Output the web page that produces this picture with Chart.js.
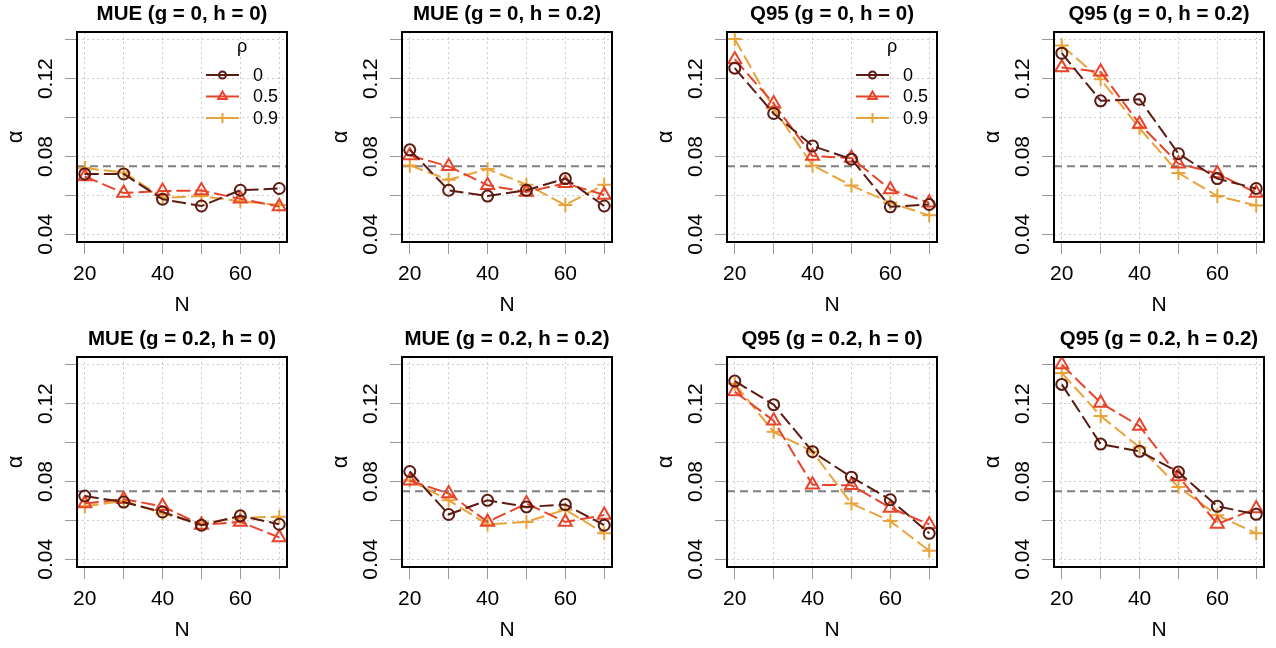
<!DOCTYPE html>
<html>
<head>
<meta charset="utf-8">
<script src="https://cdn.jsdelivr.net/npm/chart.js@4.4.1/dist/chart.umd.min.js"></script>
<style>
html,body{margin:0;padding:0;background:#fff;overflow:hidden;}
#wrap{position:relative;width:1276px;height:648px;}
canvas{position:absolute;}
</style>
</head>
<body>
<div id="wrap"></div>
<script>
// x values and tick setup
const Nvals=[20,30,40,50,60,70];
const xTicks=[20,30,40,50,60,70];
const xLabels=[20,40,60];
const yTicks=[0.04,0.06,0.08,0.10,0.12,0.14];
const yLabels=["0.04","0.08","0.12"];
const nominal=0.075;
const rhoLabels=["0","0.5","0.9"];

// alpha values, one array per rho (0, 0.5, 0.9)
const mue_g0_h0=[
  [0.071,0.071,0.058,0.0545,0.0626,0.0635],
  [0.0697,0.0612,0.0622,0.0625,0.0582,0.0542],
  [0.074,0.0718,0.0587,0.0596,0.057,0.055]
];
const mue_g0_h02=[
  [0.0834,0.0626,0.0596,0.0626,0.0686,0.0545],
  [0.0805,0.0749,0.0652,0.0617,0.0662,0.0602],
  [0.0754,0.068,0.0735,0.0655,0.055,0.0655]
];
const q95_g0_h0=[
  [0.1254,0.1021,0.0854,0.0786,0.0541,0.0553],
  [0.1299,0.1072,0.0802,0.0792,0.063,0.0562],
  [0.1404,0.1047,0.0754,0.065,0.0562,0.0497]
];
const q95_g0_h02=[
  [0.1331,0.1086,0.1094,0.0814,0.0686,0.0635],
  [0.1258,0.1235,0.0967,0.0763,0.0712,0.0612],
  [0.137,0.1197,0.0945,0.0715,0.0596,0.0548]
];
const mue_g02_h0=[
  [0.0725,0.0694,0.0643,0.0575,0.0623,0.058],
  [0.0686,0.0709,0.0672,0.0576,0.0592,0.0512],
  [0.0672,0.070,0.0635,0.0584,0.0614,0.0618]
];
const mue_g02_h02=[
  [0.0851,0.063,0.0703,0.0669,0.0681,0.0575],
  [0.0804,0.0738,0.0592,0.0686,0.0592,0.0627],
  [0.0806,0.0703,0.0579,0.0592,0.0655,0.0533]
];
const q95_g02_h0=[
  [0.1316,0.1195,0.0953,0.0822,0.0706,0.0533],
  [0.1262,0.1112,0.0783,0.078,0.0664,0.0579],
  [0.1302,0.1055,0.0953,0.0686,0.0596,0.0444]
];
const q95_g02_h02=[
  [0.1299,0.0992,0.0955,0.0848,0.0672,0.0631],
  [0.1401,0.1204,0.1085,0.0826,0.0581,0.0661],
  [0.1358,0.1137,0.0975,0.0771,0.0626,0.0533]
];

const titles=[
  "MUE (g = 0, h = 0)","MUE (g = 0, h = 0.2)","Q95 (g = 0, h = 0)","Q95 (g = 0, h = 0.2)",
  "MUE (g = 0.2, h = 0)","MUE (g = 0.2, h = 0.2)","Q95 (g = 0.2, h = 0)","Q95 (g = 0.2, h = 0.2)"
];
const panels=[mue_g0_h0,mue_g0_h02,q95_g0_h0,q95_g0_h02,mue_g02_h0,mue_g02_h02,q95_g02_h0,q95_g02_h02];
const legendPanels=[0,2];

const colors=["#5c1b12","#e8442b","#e9a33b"];
const styles=["circle","triangle","cross"];
const radii=[5.5,7.5,7];

const FONT="'Liberation Sans', Arial, Helvetica, sans-serif";
Chart.defaults.font.family=FONT;
Chart.defaults.color="#000";

function marker(ctx,style,x,y,r){
    ctx.beginPath();
    if(style=="circle"){
        ctx.arc(x,y,r,0,Math.PI*2);
    }else if(style=="triangle"){
        ctx.moveTo(x,y-r);
        ctx.lineTo(x+Math.sin(2*Math.PI/3)*r,y+r/2);
        ctx.lineTo(x-Math.sin(2*Math.PI/3)*r,y+r/2);
        ctx.closePath();
    }else{
        ctx.moveTo(x-r,y);ctx.lineTo(x+r,y);
        ctx.moveTo(x,y-r);ctx.lineTo(x,y+r);
    }
    ctx.stroke();
}

// box, title and legend
const framePlugin={
    id:"frame",
    afterDraw(chart,args,opts){
        const a=chart.chartArea, ctx=chart.ctx;
        ctx.save();
        ctx.strokeStyle="#000";
        ctx.lineWidth=2;
        ctx.strokeRect(a.left,a.top,a.right-a.left,a.bottom-a.top);

        ctx.fillStyle="#000";
        ctx.font="bold 20.5px "+FONT;
        ctx.textAlign="center";
        ctx.textBaseline="middle";
        ctx.fillText(opts.title,(a.left+a.right)/2,14);

        if(opts.legend){
            ctx.font="18px "+FONT;
            ctx.fillText("ρ",a.right-45,a.top+15);
            ctx.textAlign="left";
            rhoLabels.forEach((lab,i)=>{
                const y=a.top+43+i*21.5;
                ctx.strokeStyle=colors[i];
                ctx.lineWidth=2;
                ctx.beginPath();
                ctx.moveTo(a.right-81,y);ctx.lineTo(a.right-48,y);
                ctx.stroke();
                marker(ctx,styles[i],a.right-64.5,y,[3.5,5,5][i]);
                ctx.fillText(lab,a.right-34,y+1);
            });
        }
        ctx.restore();
    }
};

const wrap=document.getElementById("wrap");
const colLeft=[0,325,650,977];
const rowTop=[0,325];

function axisCommon(){
    return {
        grid:{color:"#cdcdcd",lineWidth:1,tickLength:12,tickColor:"#9a9a9a",tickWidth:1},
        border:{display:false,dash:[2,3]}
    };
}

panels.forEach((series,p)=>{
    const cv=document.createElement("canvas");
    cv.width=300; cv.height=324;
    cv.style.left=colLeft[p%4]+"px";
    cv.style.top=rowTop[Math.floor(p/4)]+"px";
    wrap.appendChild(cv);

    const datasets=series.map((vals,i)=>({
        label:rhoLabels[i],
        data:Nvals.map((n,k)=>({x:n,y:vals[k]})),
        borderColor:colors[i],
        borderWidth:2,
        borderDash:[14,5],
        pointStyle:styles[i],
        pointRadius:radii[i],
        pointBorderWidth:2,
        pointBorderColor:colors[i],
        pointBackgroundColor:"rgba(0,0,0,0)",
        tension:0,
        fill:false
    }));
    datasets.push({
        label:"nominal",
        data:[{x:18,y:nominal},{x:72,y:nominal}],
        borderColor:"#7f7f7f",
        borderWidth:2,
        borderDash:[8,5],
        pointRadius:0,
        fill:false
    });

    new Chart(cv,{
        type:"line",
        data:{datasets},
        options:{
            responsive:false,
            animation:false,
            events:[],
            layout:{padding:{top:32,right:13,left:0,bottom:0}},
            plugins:{
                legend:{display:false},
                tooltip:{enabled:false},
                frame:{title:titles[p],legend:legendPanels.includes(p)}
            },
            scales:{
                x:Object.assign(axisCommon(),{
                    type:"linear",min:18,max:72,
                    afterBuildTicks:s=>{s.ticks=xTicks.map(v=>({value:v}));},
                    afterFit:s=>{s.height=82;},
                    ticks:{
                        callback:v=>xLabels.includes(v)?String(v):"",
                        font:{size:21},color:"#000",padding:8,
                        maxRotation:0,autoSkip:false
                    },
                    title:{display:true,text:"N",font:{size:21},color:"#000",padding:{top:0,bottom:6}}
                }),
                y:Object.assign(axisCommon(),{
                    type:"linear",min:0.036,max:0.144,
                    afterBuildTicks:s=>{s.ticks=yTicks.map(v=>({value:v}));},
                    afterFit:s=>{s.width=77;},
                    ticks:{
                        callback:v=>{const t=v.toFixed(2);return yLabels.includes(t)?t:"";},
                        font:{size:21},color:"#000",padding:-2,
                        minRotation:90,maxRotation:90,crossAlign:"center",autoSkip:false
                    },
                    title:{display:true,text:"α",font:{size:22},color:"#000",padding:{top:3,bottom:0}}
                })
            }
        },
        plugins:[framePlugin]
    });
});
</script>
</body>
</html>
